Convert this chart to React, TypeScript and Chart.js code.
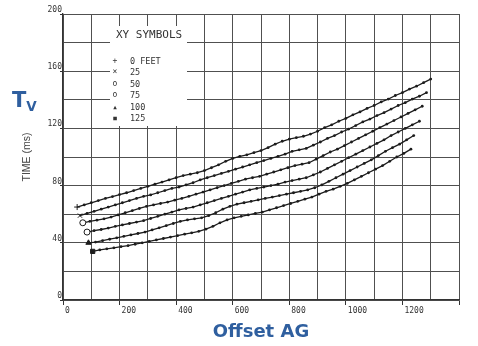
import React, { useEffect, useRef } from 'react';
import { Chart, registerables } from 'chart.js';

Chart.register(...registerables);

// ---- data ----
const SERIES_LABELS = ['0 FEET', '25', '50', '75', '100', '125'];
const SERIES_SYMBOLS = ['cross', 'crossRot', 'circle', 'circle', 'triangle', 'rect'];
const LEGEND_GLYPHS = ['+', '×', 'o', 'o', '▲', '■'];
const OFFSET_STARTS = [50, 60, 70, 85, 90, 105];
const OFFSET_STEP = 25;

const TIME_0 = [65, 66.5, 68, 69.5, 71, 72.3, 73.7, 75, 76.5, 78, 79.5, 81, 82.5, 84, 85.5, 87, 88, 89, 90.5, 92.5, 94.5, 97, 99, 100.5, 101.5, 103, 104.5, 106.5, 109, 111, 112.5, 113.5, 114.5, 116, 118, 120.5, 122.5, 125, 127, 129.5, 131.5, 134, 136, 138.5, 140.5, 143, 145, 147.5, 149.5, 152, 154.5];
const TIME_25 = [59, 60.5, 62, 63.5, 65, 66.5, 68, 69.5, 71, 72.5, 73.5, 75, 76.5, 78, 79, 80.5, 82, 84, 85.5, 87, 88.5, 90, 91.5, 93, 94.5, 96, 97.5, 99, 100.5, 102, 104, 105, 106, 108.3, 110.5, 113, 115, 117.5, 119.5, 122, 124.5, 126.5, 129, 131, 133.5, 136, 138, 140.5, 142.5, 145];
const TIME_50 = [54, 55, 55.8, 56.8, 58, 59.5, 61, 62.5, 64, 65.5, 66.5, 67.5, 68.5, 69.8, 71, 72.5, 74, 75.5, 77, 78.5, 80, 81.5, 83, 84.5, 85.5, 86.5, 88, 89.5, 91, 92.5, 94, 95, 96, 98.5, 101, 103.5, 105.5, 108, 110.5, 113, 115.5, 118, 120.5, 123, 125.5, 128, 130.5, 133, 135.5];
const TIME_75 = [47.5, 48.5, 49.3, 50.3, 51.5, 52.5, 53.5, 54.5, 55.5, 57, 58.5, 60, 61.5, 63, 64, 65, 66.5, 68, 69.5, 71, 72.5, 74, 75.5, 77, 78, 79, 80, 81, 82.5, 83.5, 84.5, 85.5, 87.5, 89.5, 92, 94.5, 97, 99.5, 102, 104.5, 107, 109.5, 112, 115, 117.5, 120, 122.5, 125];
const TIME_100 = [40, 40.5, 41.5, 42.5, 43.5, 44.5, 45.5, 46.5, 47.5, 49, 50.5, 52, 53.5, 55, 56, 56.8, 57.5, 59, 61, 63.5, 65.5, 67, 68, 69, 70, 71, 72, 73, 74, 75, 76, 77, 78.5, 80.5, 83, 85.5, 88, 90.5, 93, 95.5, 98, 101, 104, 106.5, 109, 112, 115];
const TIME_125 = [34, 35, 35.8, 36.5, 37.3, 38, 39, 40, 41, 42, 43, 44, 45, 46, 47, 48, 49.5, 51.5, 54, 56, 57.5, 58.5, 59.5, 60.5, 61.5, 63, 64.5, 66, 67.5, 69, 70.5, 72, 74, 76, 77.5, 79.5, 81.5, 84, 86.5, 89, 91.5, 94, 97, 100, 102.5, 105.5];

const X_TICK_LABELS = ['0', '200', '400', '600', '800', '1000', '1200'];
const Y_TICK_LABELS = ['0', '40', '80', '120', '160', '200'];

const SERIES_TIMES = [TIME_0, TIME_25, TIME_50, TIME_75, TIME_100, TIME_125];

const GRID = '#505050';
const INK = '#1c1c1c';
const BLUE = '#2f5f9f';

export default function App() {
  const ref = useRef<HTMLCanvasElement | null>(null);

  useEffect(() => {
    if (!ref.current) return;
    const datasets = SERIES_TIMES.map((times, s) => ({
      label: SERIES_LABELS[s],
      data: times.map((t, i) => ({ x: OFFSET_STARTS[s] + i * OFFSET_STEP, y: t })),
      borderColor: INK,
      borderWidth: 1.3,
      showLine: true,
      tension: 0,
      pointStyle: (ctx: any) => (ctx.dataIndex === 0 ? SERIES_SYMBOLS[s] : 'circle'),
      pointRadius: (ctx: any) => (ctx.dataIndex === 0 ? 3 : 1.4),
      pointBorderWidth: (ctx: any) => (ctx.dataIndex === 0 ? 1 : 0),
      pointBorderColor: INK,
      pointBackgroundColor: (ctx: any) =>
        ctx.dataIndex === 0 && (SERIES_SYMBOLS[s] === 'circle') ? '#ffffff' : INK,
    }));

    const tickFont = { family: 'DejaVu Sans Mono', size: 8 };

    const chart = new Chart(ref.current, {
      type: 'scatter',
      data: { datasets: datasets as any },
      options: {
        responsive: false,
        animation: false,
        layout: { padding: { top: 14, right: 19, left: 0, bottom: 0 } },
        plugins: { legend: { display: false }, tooltip: { enabled: false } },
        scales: {
          x: {
            type: 'linear',
            min: 0,
            max: 1400,
            afterFit: (s: any) => { s.height = 46; },
            ticks: {
              stepSize: 100,
              autoSkip: false,
              maxRotation: 0,
              align: 'start',
              labelOffset: 2,
              padding: 1,
              font: tickFont,
              color: '#333',
              callback: (v: any) => (X_TICK_LABELS.includes(String(v)) ? String(v) : ''),
            },
            grid: {
              color: GRID,
              lineWidth: 1,
              tickLength: 5,
              tickColor: (ctx: any) =>
                ctx.tick && (X_TICK_LABELS.includes(String(ctx.tick.value)) || ctx.tick.value === 1400) ? '#333' : 'rgba(0,0,0,0)',
            },
            border: { color: '#333', width: 1.3 },
            title: {
              display: true,
              text: 'Offset AG',
              color: BLUE,
              font: { family: 'DejaVu Sans', size: 18, weight: 'bold' },
              padding: { top: 0, bottom: 3 },
            },
          },
          y: {
            type: 'linear',
            min: 0,
            max: 200,
            afterFit: (s: any) => { s.width = 63; },
            ticks: {
              stepSize: 20,
              autoSkip: false,
              labelOffset: -4,
              padding: -2,
              font: tickFont,
              color: '#333',
              callback: (v: any) => (Y_TICK_LABELS.includes(String(v)) ? String(v) : ''),
            },
            grid: {
              color: GRID,
              lineWidth: 1,
              tickLength: 3,
              tickColor: (ctx: any) =>
                ctx.tick && Y_TICK_LABELS.includes(String(ctx.tick.value)) ? '#333' : 'rgba(0,0,0,0)',
            },
            border: { color: '#333', width: 1.3 },
            title: {
              display: true,
              text: 'TIME (ms)',
              color: '#444',
              font: { family: 'Liberation Sans', size: 10.5 },
              padding: { top: 20.5, bottom: 0 },
            },
          },
        },
      },
    });
    return () => chart.destroy();
  }, []);

  return (
    <div style={{ position: 'fixed', left: 0, top: 0, width: 478, height: 346, background: '#fff' }}>
      <canvas ref={ref} width={478} height={346} style={{ display: 'block' }} />
      <div
        style={{
          position: 'absolute', left: 12, top: 90, color: BLUE,
          fontFamily: 'DejaVu Sans', fontWeight: 'bold', lineHeight: 1, whiteSpace: 'nowrap',
        }}
      >
        <span style={{ fontSize: 21 }}>T</span>
        <span style={{ fontSize: 13.5, position: 'relative', top: 4 }}>V</span>
      </div>
      <div
        style={{
          position: 'absolute', left: 110, top: 26, width: 77, height: 100, background: '#fff',
          fontFamily: 'DejaVu Sans Mono', color: '#333',
        }}
      >
        <div style={{ position: 'absolute', left: 6, top: 3, fontSize: 11, lineHeight: '12px', whiteSpace: 'nowrap' }}>
          XY SYMBOLS
        </div>
        {SERIES_LABELS.map((lab, i) => (
          <div key={lab} style={{ position: 'absolute', left: 0, top: 30 + i * 11.4, height: 10, width: 77, fontSize: 8.5, lineHeight: '10px', whiteSpace: 'nowrap' }}>
            <span style={{ position: 'absolute', left: 2, width: 6, textAlign: 'center', fontSize: i >= 4 ? 6 : 8 }}>{LEGEND_GLYPHS[i]}</span>
            <span style={{ position: 'absolute', left: 20 }}>{lab}</span>
          </div>
        ))}
      </div>
    </div>
  );
}
